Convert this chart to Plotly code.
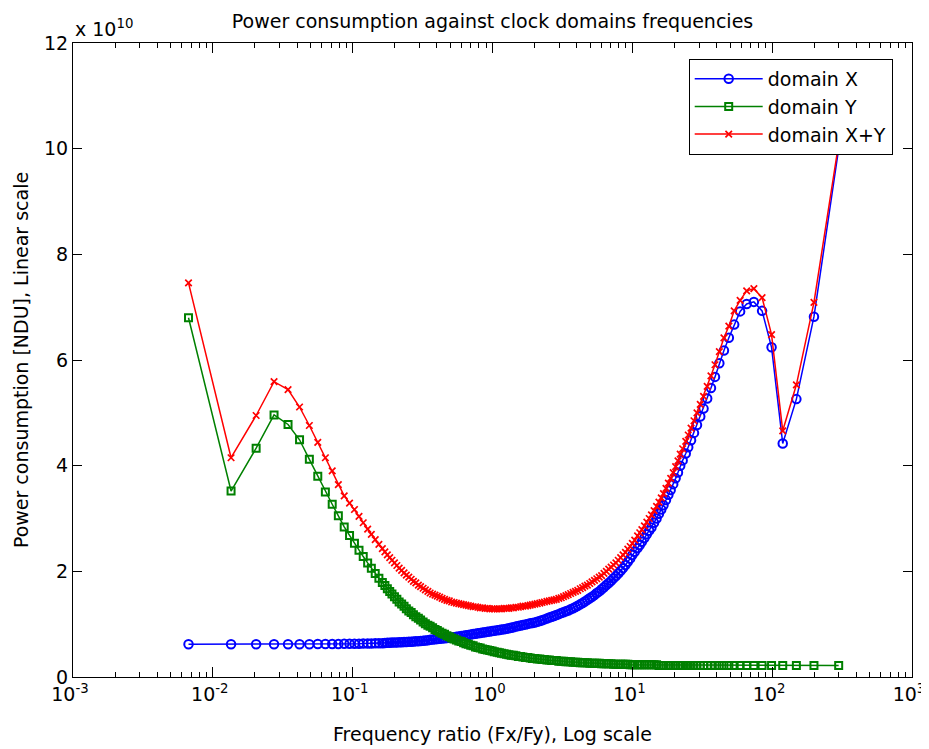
import plotly.graph_objects as go

# Frequency ratio Fx/Fy (log axis)
freq_ratio = [
    # sparse low-ratio points
    0.0067, 0.0135, 0.0204, 0.0274, 0.0345, 0.0417, 0.049, 0.0563, 0.0638, 0.0714,
    0.079, 0.087, 0.095, 0.103, 0.111, 0.119, 0.128, 0.136, 0.145, 0.154,
    0.163,
    # dense middle
    0.17, 0.177, 0.184, 0.191, 0.199, 0.207, 0.215, 0.224, 0.233, 0.242,
    0.252, 0.262, 0.272, 0.283, 0.295, 0.306, 0.319, 0.331, 0.345, 0.358,
    0.373, 0.388, 0.403, 0.419, 0.436, 0.454, 0.472, 0.491, 0.51, 0.531,
    0.552, 0.574, 0.597, 0.621, 0.646, 0.672, 0.699, 0.727, 0.756, 0.786,
    0.817, 0.85, 0.884, 0.919, 0.956, 0.994, 1.03, 1.08, 1.12, 1.16,
    1.21, 1.26, 1.31, 1.36, 1.41, 1.47, 1.53, 1.59, 1.65, 1.72,
    1.79, 1.86, 1.93, 2.01, 2.09, 2.18, 2.26, 2.35, 2.45, 2.55,
    2.65, 2.75, 2.86, 2.98, 3.1, 3.22, 3.35, 3.48, 3.62, 3.77,
    3.92, 4.07, 4.24, 4.41, 4.58, 4.77, 4.96, 5.15, 5.36, 5.57,
    5.8, 6.03, 6.27, 6.52, 6.78, 7.05, 7.34, 7.63, 7.93, 8.25,
    8.58, 8.93, 9.28, 9.65, 10.0, 10.4, 10.9, 11.3, 11.7, 12.2,
    12.7, 13.2, 13.7, 14.3, 14.9, 15.5, 16.1, 16.7, 17.4, 18.1,
    18.8, 19.6, 20.4, 21.2, 22.0, 22.9,
    # sparse high-ratio points
    24.1, 25.1, 26.3, 27.6, 29.0, 30.6, 32.3, 34.3, 36.5, 39.0,
    41.9, 45.2, 49.0, 53.5, 59.0, 65.7, 74.0, 84.7, 99.0, 119.0,
    149.0, 199.0, 299.0,
]

# Power consumption, in units of 1e10 NDU
power_domain_x = [
    0.62, 0.62, 0.62, 0.62, 0.62, 0.62, 0.62, 0.625, 0.625, 0.625,
    0.625, 0.63, 0.63, 0.63, 0.63, 0.635, 0.635, 0.635, 0.64, 0.64,
    0.64,
    0.645, 0.647, 0.649, 0.651, 0.653, 0.655, 0.657, 0.659, 0.661, 0.663,
    0.665, 0.668, 0.671, 0.675, 0.679, 0.682, 0.687, 0.692, 0.697, 0.703,
    0.708, 0.713, 0.718, 0.723, 0.728, 0.733, 0.738, 0.743, 0.748, 0.754,
    0.761, 0.768, 0.775, 0.782, 0.789, 0.796, 0.804, 0.812, 0.820, 0.827,
    0.834, 0.841, 0.848, 0.855, 0.862, 0.869, 0.876, 0.884, 0.891, 0.897,
    0.905, 0.913, 0.921, 0.930, 0.942, 0.955, 0.965, 0.975, 0.985, 0.995,
    1.005, 1.015, 1.02, 1.03, 1.045, 1.06, 1.075, 1.09, 1.105, 1.125,
    1.14, 1.155, 1.175, 1.19, 1.21, 1.225, 1.245, 1.26, 1.28, 1.30,
    1.325, 1.35, 1.375, 1.40, 1.43, 1.46, 1.49, 1.52, 1.55, 1.59,
    1.62, 1.66, 1.70, 1.74, 1.78, 1.82, 1.87, 1.91, 1.96, 2.01,
    2.06, 2.12, 2.18, 2.24, 2.31, 2.37, 2.44, 2.50, 2.56, 2.63,
    2.70, 2.77, 2.83, 2.92, 3.00, 3.09, 3.17, 3.25, 3.35, 3.45,
    3.54, 3.65, 3.76, 3.87, 4.00, 4.10,
    4.23, 4.35, 4.48, 4.62, 4.77, 4.93, 5.08, 5.27, 5.47, 5.68,
    5.94, 6.18, 6.42, 6.67, 6.92, 7.06, 7.10, 6.93, 6.24, 4.42,
    5.26, 6.82, 10.0,
]

power_domain_y = [
    6.80, 3.52, 4.33, 4.96, 4.78, 4.49, 4.12, 3.80, 3.50, 3.27,
    3.05, 2.84, 2.68, 2.53, 2.40, 2.28, 2.16, 2.06, 1.96, 1.87,
    1.79,
    1.73, 1.67, 1.62, 1.57, 1.52, 1.47, 1.42, 1.38, 1.34, 1.29,
    1.25, 1.22, 1.18, 1.14, 1.11, 1.08, 1.04, 1.01, 0.98, 0.96,
    0.93, 0.90, 0.88, 0.85, 0.83, 0.81, 0.78, 0.76, 0.74, 0.72,
    0.70, 0.68, 0.67, 0.65, 0.63, 0.62, 0.60, 0.59, 0.57, 0.56,
    0.55, 0.53, 0.52, 0.51, 0.50, 0.49, 0.48, 0.47, 0.46, 0.45,
    0.44, 0.43, 0.42, 0.41, 0.41, 0.40, 0.39, 0.39, 0.38, 0.37,
    0.37, 0.36, 0.35, 0.35, 0.34, 0.34, 0.33, 0.33, 0.32, 0.32,
    0.31, 0.31, 0.31, 0.30, 0.30, 0.30, 0.29, 0.29, 0.29, 0.28,
    0.28, 0.28, 0.27, 0.27, 0.27, 0.27, 0.26, 0.26, 0.26, 0.26,
    0.26, 0.25, 0.25, 0.25, 0.25, 0.25, 0.24, 0.24, 0.24, 0.24,
    0.24, 0.24, 0.24, 0.23, 0.23, 0.23, 0.23, 0.23, 0.23, 0.23,
    0.23, 0.23, 0.23, 0.23, 0.23, 0.22, 0.22, 0.22, 0.22, 0.22,
    0.22, 0.22, 0.22, 0.22, 0.22, 0.22,
    0.22, 0.22, 0.22, 0.22, 0.22, 0.22, 0.22, 0.22, 0.22, 0.22,
    0.22, 0.22, 0.22, 0.22, 0.22, 0.22, 0.22, 0.22, 0.22, 0.22,
    0.22, 0.22, 0.22,
]

power_domain_xy = [
    7.46, 4.15, 4.95, 5.59, 5.44, 5.11, 4.76, 4.44, 4.15, 3.90,
    3.64, 3.43, 3.29, 3.17, 3.04, 2.92, 2.80, 2.70, 2.60, 2.51,
    2.43,
    2.37, 2.31, 2.26, 2.21, 2.16, 2.11, 2.06, 2.02, 1.97, 1.93,
    1.89, 1.85, 1.81, 1.78, 1.74, 1.71, 1.68, 1.65, 1.62, 1.59,
    1.57, 1.55, 1.53, 1.51, 1.49, 1.47, 1.45, 1.44, 1.42, 1.41,
    1.40, 1.39, 1.38, 1.37, 1.36, 1.35, 1.34, 1.33, 1.33, 1.32,
    1.31, 1.31, 1.30, 1.30, 1.29, 1.29, 1.29, 1.29, 1.29, 1.29,
    1.30, 1.30, 1.30, 1.31, 1.31, 1.32, 1.32, 1.33, 1.34, 1.34,
    1.35, 1.36, 1.37, 1.38, 1.39, 1.40, 1.41, 1.42, 1.43, 1.44,
    1.45, 1.46, 1.47, 1.49, 1.50, 1.52, 1.54, 1.56, 1.58, 1.60,
    1.62, 1.64, 1.67, 1.69, 1.72, 1.74, 1.77, 1.80, 1.83, 1.86,
    1.89, 1.92, 1.96, 2.00, 2.04, 2.08, 2.12, 2.16, 2.21, 2.26,
    2.31, 2.36, 2.42, 2.47, 2.53, 2.59, 2.67, 2.73, 2.79, 2.86,
    2.93, 3.00, 3.07, 3.15, 3.23, 3.31, 3.39, 3.47, 3.57, 3.67,
    3.76, 3.87, 3.98, 4.09, 4.22, 4.32,
    4.46, 4.58, 4.71, 4.85, 5.00, 5.16, 5.31, 5.50, 5.70, 5.91,
    6.16, 6.42, 6.64, 6.93, 7.13, 7.31, 7.35, 7.18, 6.48, 4.66,
    5.53, 7.09, 10.1,
]

assert len(freq_ratio) == len(power_domain_x) == len(power_domain_y) == len(power_domain_xy)

series_names = ["domain X", "domain Y", "domain X+Y"]
x_tick_values = [0.001, 0.01, 0.1, 1, 10, 100, 1000]
x_tick_labels = ["10<sup>-3</sup>", "10<sup>-2</sup>", "10<sup>-1</sup>", "10<sup>0</sup>",
                 "10<sup>1</sup>", "10<sup>2</sup>", "10<sup>3</sup>"]
y_tick_values = [0, 2, 4, 6, 8, 10, 12]

FONT = "DejaVu Sans, Verdana, sans-serif"
FS = 19

fig = go.Figure()
fig.add_trace(go.Scatter(
    x=freq_ratio, y=power_domain_x, name=series_names[0], mode="lines+markers",
    line=dict(color="rgb(0,0,255)", width=1.5),
    marker=dict(symbol="circle-open", size=8.5, color="rgb(0,0,255)", line=dict(width=2)),
))
fig.add_trace(go.Scatter(
    x=freq_ratio, y=power_domain_y, name=series_names[1], mode="lines+markers",
    line=dict(color="rgb(0,128,0)", width=1.5),
    marker=dict(symbol="square-open", size=7, color="rgb(0,128,0)", line=dict(width=2)),
))
fig.add_trace(go.Scatter(
    x=freq_ratio, y=power_domain_xy, name=series_names[2], mode="lines+markers",
    line=dict(color="rgb(255,0,0)", width=1.5),
    marker=dict(symbol="x-thin-open", size=6.5, color="rgb(255,0,0)", line=dict(width=1.7)),
))

minor_vals = [m * 10 ** e for e in range(-3, 3) for m in range(2, 10)]

fig.update_layout(
    width=921, height=741,
    margin=dict(l=65, r=17, t=35, b=72, autoexpand=False),
    paper_bgcolor="white", plot_bgcolor="white",
    font=dict(family=FONT, size=FS, color="black"),
    title=dict(text="Power consumption against clock domains frequencies",
               x=0.5, xref="paper", xanchor="center", y=0.982, yanchor="middle",
               font=dict(family=FONT, size=FS, color="black")),
    showlegend=True,
    legend=dict(x=0.977, y=0.975, xanchor="right", yanchor="top",
                bgcolor="white", bordercolor="black", borderwidth=1,
                font=dict(family=FONT, size=FS, color="black"),
                tracegroupgap=0, itemwidth=68),
    xaxis=dict(
        type="log", range=[-3, 3], tickmode="array", tickvals=x_tick_values, ticktext=x_tick_labels,
        ticks="inside", ticklen=10, tickwidth=1, tickcolor="black", ticklabelshift=-3,
        showline=True, linecolor="black", linewidth=1, mirror="allticks",
        showgrid=False, zeroline=False, automargin=False,
        minor=dict(tickmode="array", tickvals=minor_vals, ticks="inside", ticklen=5,
                   tickcolor="black", tickwidth=1, showgrid=False),
        title=dict(text="Frequency ratio (Fx/Fy), Log scale", standoff=23,
                   font=dict(family=FONT, size=FS)),
        tickfont=dict(family=FONT, size=FS),
    ),
    yaxis=dict(
        range=[0, 12], tickmode="array", tickvals=y_tick_values,
        ticks="inside", ticklen=9, tickwidth=1, tickcolor="black",
        showline=True, linecolor="black", linewidth=1, mirror="allticks",
        showgrid=False, zeroline=False, automargin=False,
        title=dict(text="Power consumption [NDU], Linear scale", standoff=10,
                   font=dict(family=FONT, size=FS)),
        tickfont=dict(family=FONT, size=FS),
    ),
    annotations=[dict(text="x 10<sup>10</sup>", xref="paper", yref="paper", x=0.0, y=1.0,
                      xanchor="left", yanchor="bottom", yshift=1, showarrow=False,
                      font=dict(family=FONT, size=FS, color="black"))],
)

fig.write_html("out.html")
